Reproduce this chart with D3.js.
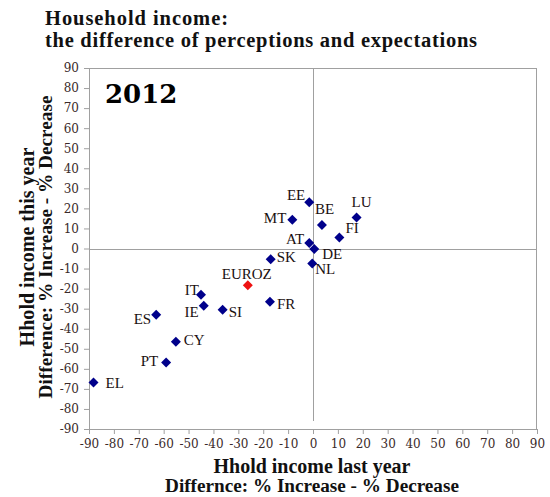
<!DOCTYPE html>
<html><head><meta charset="utf-8">
<script src="https://cdn.jsdelivr.net/npm/d3@7"></script>
<style>body{margin:0;background:#fff}</style>
</head><body>
<svg id="chart" width="550" height="497"></svg>
<script>
const countries = ["EE","BE","LU","FI","MT","AT","DE","NL","SK","EUROZ","IT","IE","SI","FR","ES","CY","PT","EL"];
const lastYear  = [-1.5,3.6,17.5,10.6,-8.3,-1.5,0.5,-0.3,-17,-26.2,-45,-43.9,-36.3,-17.3,-63,-55.1,-59,-88.2];
const thisYear  = [23,11.7,15.5,5.5,14.3,2.8,-0.3,-7.5,-5.3,-18.3,-23,-28.5,-30.5,-26.5,-33,-46.5,-56.8,-66.8];
const tickValues = d3.range(-90, 91, 10);
const highlight = "EUROZ";

// label layout (anchor, dx, dy)
const labelPos = {
  EE:["end",-4,-2], BE:["start",-7,-11], LU:["start",-5,-10], FI:["start",6,-4],
  MT:["end",-6,3], AT:["end",-5,1], DE:["start",8,10], NL:["start",3,10],
  SK:["start",6,3], EUROZ:["middle",-1,-6], IT:["end",-2,0], IE:["end",-5,11],
  SI:["start",6,7], FR:["start",7,7], ES:["end",-5,9], CY:["start",8,3],
  PT:["end",-8,4], EL:["start",12,6]
};

const svg = d3.select("#chart");
const L=89, R=537, T=68, B=429;
const x = d3.scaleLinear().domain([-90,90]).range([L,R]);
const y = d3.scaleLinear().domain([-90,90]).range([B,T]);
const grey = "#a0a0a0";
const serif = "'DejaVu Serif', serif";
const times = "'Liberation Serif', serif";

function fit(sel, w){
  const n = sel.node(); let fs = parseFloat(sel.attr("font-size"));
  const cur = n.getComputedTextLength(); sel.attr("font-size", fs*w/cur);
}

// title
svg.append("text").attr("x",45).attr("y",25).attr("font-family",times).attr("font-weight","bold").attr("font-size",20.5)
  .attr("textLength",183).attr("lengthAdjust","spacing").attr("fill","#111").text("Household income:");
svg.append("text").attr("x",45).attr("y",47).attr("font-family",times).attr("font-weight","bold").attr("font-size",20.5)
  .attr("textLength",432).attr("lengthAdjust","spacing").attr("fill","#111").text("the difference of perceptions and expectations");

// box
svg.append("line").attr("x1",L).attr("x2",R).attr("y1",T+0.5).attr("y2",T+0.5).attr("stroke",grey);
svg.append("line").attr("x1",R-0.5).attr("x2",R-0.5).attr("y1",T).attr("y2",B).attr("stroke",grey);
// zero lines
svg.append("line").attr("x1",L).attr("x2",R).attr("y1",Math.round(y(0))+0.5).attr("y2",Math.round(y(0))+0.5).attr("stroke",grey);
svg.append("line").attr("x1",Math.round(x(0))+0.5).attr("x2",Math.round(x(0))+0.5).attr("y1",T).attr("y2",B-8).attr("stroke",grey);

// axes
const fmt = d => String(d);
const xAxis = svg.append("g").attr("transform",`translate(0,${B})`)
  .call(d3.axisBottom(x).tickValues(tickValues).tickSize(5).tickPadding(5).tickFormat(fmt));
const yAxis = svg.append("g").attr("transform",`translate(${L},0)`)
  .call(d3.axisLeft(y).tickValues(tickValues).tickSize(5).tickPadding(5).tickFormat(fmt));
[xAxis,yAxis].forEach(g=>{
  g.selectAll("path,line").attr("stroke",grey);
  g.selectAll("text").attr("font-family",serif).attr("font-size",12).attr("fill","#3a2a2a");
  g.select(".domain").attr("d", null);
});
xAxis.append("line").attr("x1",L).attr("x2",R).attr("y1",0.5).attr("y2",0.5).attr("stroke",grey);
yAxis.append("line").attr("x1",0.5).attr("x2",0.5).attr("y1",T).attr("y2",B).attr("stroke",grey);

// 2012
svg.append("text").attr("x",105).attr("y",103).attr("font-family",serif).attr("font-weight","bold").attr("font-size",26).attr("fill","#000").text("2012");

// axis titles
const xt1 = svg.append("text").attr("x",312).attr("y",473).attr("text-anchor","middle").attr("font-family",times).attr("font-weight","bold").attr("font-size",15).attr("fill","#111").text("Hhold income last year");
fit(xt1,197);
const xt2 = svg.append("text").attr("x",312).attr("y",492).attr("text-anchor","middle").attr("font-family",times).attr("font-weight","bold").attr("font-size",15).attr("fill","#111").text("Differnce: % Increase - % Decrease");
fit(xt2,294);
const yt1 = svg.append("text").attr("transform","translate(34,247) rotate(-90)").attr("text-anchor","middle").attr("font-family",times).attr("font-weight","bold").attr("font-size",15).attr("fill","#111").text("Hhold income this year");
fit(yt1,199);
const yt2 = svg.append("text").attr("transform","translate(52,247) rotate(-90)").attr("text-anchor","middle").attr("font-family",times).attr("font-weight","bold").attr("font-size",15).attr("fill","#111").text("Difference: % Increase - % Decrease");
fit(yt2,303);

// points
const data = countries.map((c,i)=>({c, xv:lastYear[i], yv:thisYear[i]}));
const sym = d3.symbol().type(d3.symbolSquare).size(50);
svg.append("g").selectAll("path").data(data).join("path")
  .attr("d",sym)
  .attr("transform",d=>`translate(${x(d.xv)},${y(d.yv)}) rotate(45)`)
  .attr("fill",d=>d.c===highlight?"#ee1111":"#00008b");

svg.append("g").selectAll("text").data(data).join("text")
  .attr("x",d=>x(d.xv)+labelPos[d.c][1])
  .attr("y",d=>y(d.yv)+labelPos[d.c][2])
  .attr("text-anchor",d=>labelPos[d.c][0])
  .attr("font-family",times).attr("font-size",15).attr("fill","#1a1010")
  .text(d=>d.c);
</script>
</body></html>
